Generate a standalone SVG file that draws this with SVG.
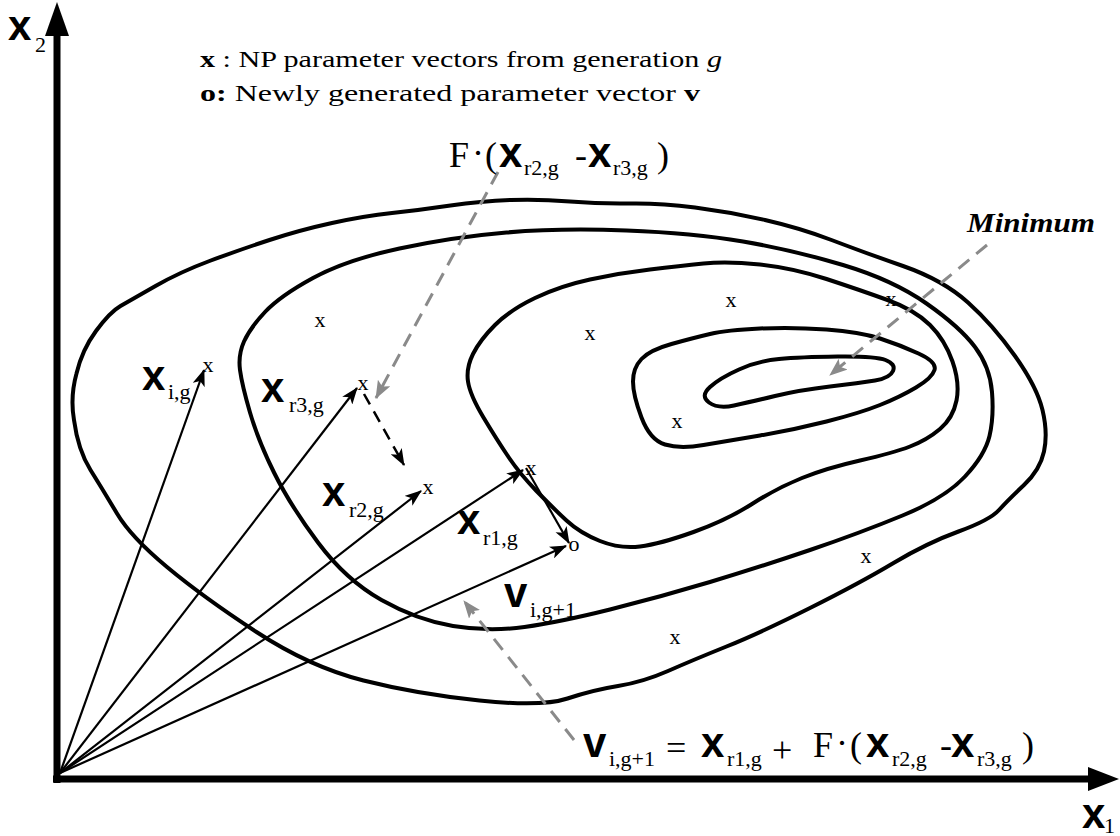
<svg xmlns="http://www.w3.org/2000/svg" width="1120" height="836" viewBox="0 0 1120 836">
<style>
.ct{fill:none;stroke:#000;stroke-width:4;stroke-linejoin:round}
.vec{fill:none;stroke:#000;stroke-width:2.2}
.gd{fill:none;stroke:#8a8a8a;stroke-width:3;stroke-dasharray:14 9}
.bd{fill:none;stroke:#000;stroke-width:2.5;stroke-dasharray:12 8}
.bx{font-family:"Liberation Sans",Arial,sans-serif;font-weight:bold;font-size:42px}
.sb{font-family:"Liberation Serif","Times New Roman",serif;font-size:22px}
.sr{font-family:"Liberation Serif","Times New Roman",serif;font-size:36px}
.mk{font-family:"Liberation Serif","Times New Roman",serif;font-size:22px;text-anchor:middle}
.lg{font-family:"Liberation Serif","Times New Roman",serif;font-size:24px}
</style>
<defs>
<marker id="ah" viewBox="0 0 16 12" refX="15" refY="6" markerWidth="17" markerHeight="13" orient="auto" markerUnits="userSpaceOnUse"><path d="M0,0 L16,6 L0,12 L4,6 z" fill="#000"/></marker>
<marker id="ag" viewBox="0 0 18 14" refX="17" refY="7" markerWidth="18" markerHeight="14" orient="auto" markerUnits="userSpaceOnUse"><path d="M0,0 L18,7 L0,14 L4,7 z" fill="#8a8a8a"/></marker>
</defs>
<rect width="1120" height="836" fill="#fff"/>

<g id="contours">
<path class="ct" d="M74,420 Q70,397 76.5,373.5 Q82,350 96,331 Q110,312 120.5,306 Q131,300 155.5,286 Q180,272 209.5,261 Q239,250 269.5,240 Q300,230 332,223 Q364,216 392,213 Q420,210 450.5,205.5 Q481,201 510.5,200 Q540,199 570,201.5 Q600,204 630,203.5 Q660,203 695,207.5 Q730,212 765,220 Q800,228 831.5,240 Q863,252 903,266 Q943,280 968,302.5 Q993,325 1015,356 Q1037,387 1042.5,410 Q1048,433 1044,451.5 Q1040,470 1024,485 Q1008,500 999,510 Q990,520 958.5,531.5 Q927,543 893.5,563 Q860,583 810,608 Q760,633 726.5,646.5 Q693,660 668,671 Q643,682 618,686 Q593,690 567.5,698.5 Q542,707 479.5,700.5 Q417,694 363.5,680.5 Q310,667 256.5,632 Q203,597 167,567 Q131,537 117,513.5 Q103,490 90.5,470 Q78,450 74,420 Z"/>
<path class="ct" d="M250,412.5 Q242,385 240,370 Q238,355 244,341.5 Q250,328 265,312 Q280,296 313,278 Q346,260 399.5,248.5 Q453,237 506.5,232.5 Q560,228 626.5,230.5 Q693,233 743,241.5 Q793,250 843,265 Q893,280 926.5,303.5 Q960,327 975,347 Q990,367 992,392 Q994,417 989.5,436 Q985,455 965,476.5 Q945,498 902.5,515.5 Q860,533 810,550 Q760,567 710,582 Q660,597 610,609.5 Q560,622 524.5,627 Q489,632 453,626 Q417,620 381.5,600 Q346,580 318,542.5 Q290,505 274,472.5 Q258,440 250,412.5 Z"/>
<path class="ct" d="M483.5,417.5 Q470,395 468,381.5 Q466,368 473,354 Q480,340 495,325 Q510,310 535,298 Q560,286 590,279.5 Q620,273 650,269.5 Q680,266 703.5,263.5 Q727,261 760,264.5 Q793,268 826.5,279 Q860,290 887.5,300 Q915,310 930,325 Q945,340 952.5,361.5 Q960,383 956.5,400.5 Q953,418 940,429 Q927,440 910,446.5 Q893,453 860,460.5 Q827,468 802,478 Q777,488 752,504 Q727,520 693.5,532 Q660,544 640,546.5 Q620,549 600,541 Q580,533 566.5,520.5 Q553,508 536.5,491 Q520,474 508.5,457 Q497,440 483.5,417.5 Z"/>
<path class="ct" d="M641.5,417.5 Q633,395 633,381.5 Q633,368 641.5,359 Q650,350 671.5,344 Q693,338 710,334 Q727,330 760,328.5 Q793,327 826.5,329.5 Q860,332 880,338.5 Q900,345 918.5,353.5 Q937,362 934.5,370 Q932,378 916,387.5 Q900,397 880,405 Q860,413 826.5,421.5 Q793,430 760,435.5 Q727,441 703.5,445 Q680,449 665,444.5 Q650,440 641.5,417.5 Z"/>
<path class="ct" d="M709,402.5 Q700,396 710,387 Q720,378 739,369.5 Q758,361 779,359 Q800,357 837.5,356.5 Q875,356 885.5,360 Q896,364 893,371 Q890,378 875,380.5 Q860,383 830,386.5 Q800,390 775,396 Q750,402 734,405.5 Q718,409 709,402.5 Z"/>
</g>

<g id="axes">
<line x1="57" y1="783" x2="57" y2="30" stroke="#000" stroke-width="7"/>
<polygon points="57,2 45,36 69,36" fill="#000"/>
<line x1="53" y1="779" x2="1092" y2="779" stroke="#000" stroke-width="7"/>
<polygon points="1119,779 1088,767 1088,791" fill="#000"/>
<text x="8" y="40" class="bx" font-size="38">x</text>
<text x="35" y="52" class="sb">2</text>
<text x="1082" y="828" class="bx" font-size="38">x</text>
<text x="1104" y="833" class="sb" font-size="18">1</text>
</g>

<g id="legend">
<text x="200" y="67" class="lg" textLength="522" lengthAdjust="spacingAndGlyphs"><tspan font-weight="bold">x</tspan> : NP parameter vectors from generation <tspan font-style="italic">g</tspan></text>
<text x="200" y="101" class="lg" textLength="500" lengthAdjust="spacingAndGlyphs"><tspan font-weight="bold">o:</tspan> Newly generated parameter vector <tspan font-weight="bold">v</tspan></text>
</g>

<g id="connectors">
<line class="vec" x1="60" y1="773" x2="204" y2="370" marker-end="url(#ah)"/>
<line class="vec" x1="60" y1="773" x2="357" y2="388" marker-end="url(#ah)"/>
<line class="vec" x1="60" y1="773" x2="421" y2="491" marker-end="url(#ah)"/>
<line class="vec" x1="60" y1="773" x2="523" y2="470" marker-end="url(#ah)"/>
<line class="vec" x1="60" y1="773" x2="566" y2="546" marker-end="url(#ah)"/>
<line class="vec" x1="526" y1="468" x2="569" y2="543" marker-end="url(#ah)"/>
<line class="bd" x1="364" y1="394" x2="404" y2="465" marker-end="url(#ah)"/>
<line class="gd" x1="498" y1="172" x2="376" y2="398" marker-end="url(#ag)"/>
<line class="gd" x1="987" y1="245" x2="830" y2="375" marker-end="url(#ag)"/>
<line class="gd" x1="574" y1="740" x2="464" y2="601" marker-end="url(#ag)"/>
</g>

<g id="marks">
<text class="mk" x="320" y="327">x</text>
<text class="mk" x="590" y="340">x</text>
<text class="mk" x="731" y="307">x</text>
<text class="mk" x="891" y="306">x</text>
<text class="mk" x="677" y="428">x</text>
<text class="mk" x="866" y="563">x</text>
<text class="mk" x="675" y="644">x</text>
</g>

<g id="node-xig">
<text class="mk" x="208" y="372">x</text>
<text x="142" y="390" class="bx">x</text><text x="168" y="399" class="sb">i,g</text>
</g>
<g id="node-xr3">
<text class="mk" x="363" y="390">x</text>
<text x="261" y="402" class="bx">x</text><text x="289" y="412" class="sb">r3,g</text>
</g>
<g id="node-xr2">
<text class="mk" x="428" y="494">x</text>
<text x="322" y="506" class="bx">x</text><text x="349" y="517" class="sb">r2,g</text>
</g>
<g id="node-xr1">
<text class="mk" x="531" y="475">x</text>
<text x="457" y="534" class="bx">x</text><text x="483" y="545" class="sb">r1,g</text>
</g>
<g id="node-v">
<text class="mk" x="574" y="551" font-size="16">o</text>
<text x="504" y="607" class="bx">v</text><text x="530" y="617" class="sb">i,g+1</text>
</g>

<g id="label-F">
<text x="449" y="167" class="sr">F</text>
<text x="472" y="165" class="sr" font-size="30">·</text>
<text x="485" y="167" class="sr">(</text>
<text x="499" y="167" class="bx">x</text>
<text x="524" y="175" class="sb">r2,g</text>
<text x="575" y="167" class="sr" font-size="30">-</text>
<text x="588" y="167" class="bx">x</text>
<text x="613" y="175" class="sb">r3,g</text>
<text x="657" y="167" class="sr">)</text>
</g>

<g id="label-min">
<text x="967" y="232" font-family="Liberation Serif, serif" font-weight="bold" font-style="italic" font-size="28" textLength="128" lengthAdjust="spacingAndGlyphs">Minimum</text>
</g>

<g id="label-formula">
<text x="583" y="757" class="bx">v</text>
<text x="609" y="766" class="sb">i,g+1</text>
<text x="666" y="760" class="sr" font-size="48">=</text>
<text x="701" y="757" class="bx">x</text>
<text x="727" y="766" class="sb">r1,g</text>
<text x="772" y="762" class="sr" font-size="48">+</text>
<text x="813" y="757" class="sr">F</text>
<text x="836" y="755" class="sr" font-size="30">·</text>
<text x="850" y="757" class="sr">(</text>
<text x="866" y="757" class="bx">x</text>
<text x="892" y="766" class="sb">r2,g</text>
<text x="940" y="757" class="sr" font-size="30">-</text>
<text x="951" y="757" class="bx">x</text>
<text x="977" y="766" class="sb">r3,g</text>
<text x="1022" y="757" class="sr">)</text>
</g>
</svg>
